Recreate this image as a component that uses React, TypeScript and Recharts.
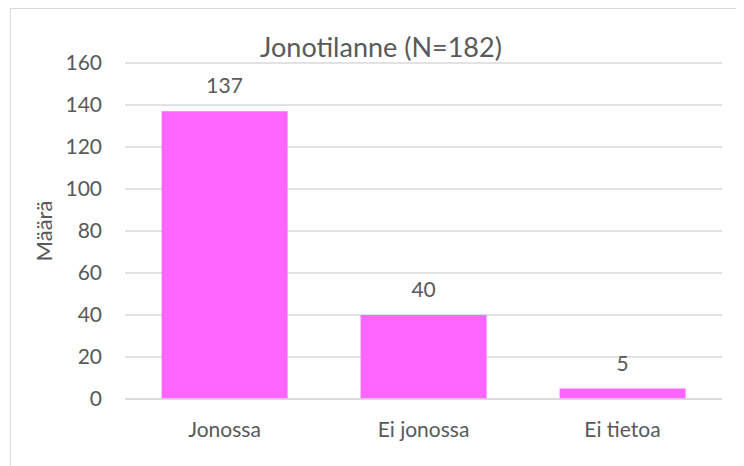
import { BarChart, Bar, XAxis, YAxis, CartesianGrid, LabelList, Label } from "recharts";

const CATEGORIES = ["Jonossa", "Ei jonossa", "Ei tietoa"];
const COUNTS = [137, 40, 5];
const Y_TICKS = [0, 20, 40, 60, 80, 100, 120, 140, 160];
const TITLE = "Jonotilanne (N=182)";
const Y_LABEL = "Määrä";

const FONT = "Lato, 'Noto Sans', sans-serif";
const TEXT_COLOR = "#595959";
const GRID_COLOR = "#d9d9d9";
const BAR_COLOR = "#FF66FF";

const chartData = CATEGORIES.map((name, i) => ({ name, value: COUNTS[i] }));

function App() {
  return (
    <div style={{ position: "relative", width: 736, height: 458, overflow: "hidden", fontFamily: FONT }}>
      {/* chart frame, cropped on the right and bottom like the reference */}
      <div
        style={{
          position: "absolute",
          left: 2,
          top: 0,
          width: 800,
          height: 600,
          borderLeft: `1px solid ${GRID_COLOR}`,
          borderTop: `1px solid ${GRID_COLOR}`,
          boxSizing: "border-box",
        }}
      />
      <BarChart
        width={736}
        height={458}
        data={chartData}
        margin={{ top: 55, right: 22, left: 0, bottom: 7 }}
        barCategoryGap="18.4%"
        style={{ position: "absolute", left: 0, top: 0 }}
      >
        <text x={373} y={49} textAnchor="middle" fill={TEXT_COLOR} fontSize={27} fontFamily={FONT}>
          {TITLE}
        </text>
        <CartesianGrid vertical={false} stroke={GRID_COLOR} strokeWidth={1.3} />
        <XAxis
          dataKey="name"
          height={60}
          tickLine={false}
          axisLine={{ stroke: GRID_COLOR, strokeWidth: 1.3 }}
          tickSize={0}
          tickMargin={23}
          tick={{ fill: TEXT_COLOR, fontSize: 21, fontFamily: FONT }}
        />
        <YAxis
          width={117}
          domain={[0, 160]}
          ticks={Y_TICKS}
          interval={0}
          tickLine={false}
          axisLine={false}
          tickSize={0}
          tickMargin={23}
          tick={{ fill: TEXT_COLOR, fontSize: 21, fontFamily: FONT }}
        >
          <Label
            value={Y_LABEL}
            angle={-90}
            position="insideLeft"
            offset={36}
            fill={TEXT_COLOR}
            fontSize={22}
            fontFamily={FONT}
            style={{ textAnchor: "middle" }}
          />
        </YAxis>
        <Bar dataKey="value" fill={BAR_COLOR} isAnimationActive={false}>
          <LabelList
            dataKey="value"
            position="top"
            offset={18}
            fill={TEXT_COLOR}
            fontSize={21}
            fontFamily={FONT}
          />
        </Bar>
      </BarChart>
    </div>
  );
}

export default App;
